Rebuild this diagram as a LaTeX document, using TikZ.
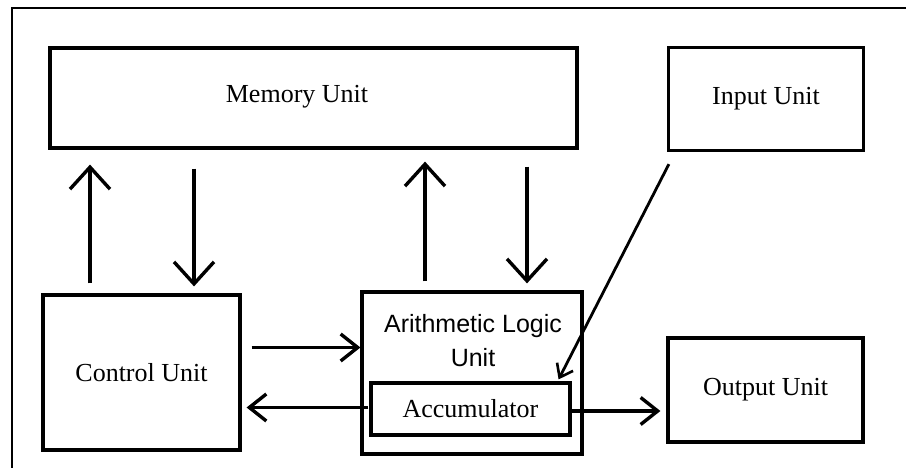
\documentclass[tikz,border=0pt]{standalone}
\usepackage{fontspec}
\setmainfont{Liberation Serif}
\newfontfamily\arialf{Liberation Sans}
\usetikzlibrary{arrows.meta}
\begin{document}
\begin{tikzpicture}[x=1pt,y=-1pt,
  box/.style={draw=black,line width=3.2pt,minimum width=#1,inner sep=0pt,font=\fontsize{26}{30}\selectfont},
  varr/.style={line width=3.4pt,-{Straight Barb[length=22pt,width=40pt,line width=3.4pt]}},
  harr/.style={line width=3.4pt,-{Straight Barb[length=17pt,width=27pt,line width=3.4pt]}},
  darr/.style={line width=2.8pt,-{Straight Barb[length=12pt,width=18pt,line width=2.6pt]}}]
\useasboundingbox (0,0) rectangle (906,468);
\fill[white] (0,0) rectangle (906,468);
% outer frame
\draw[line width=2.2pt] (12,468) -- (12,8) -- (906,8);
% boxes
\node[box=527pt,minimum height=100pt] (mem) at (313.5,98) {};
\node[font=\fontsize{26}{30}\selectfont] (memt) at (297,97) {Memory Unit};
\node[box=195pt,minimum height=103pt] (inp) at (766,99) {Input Unit};
\node[box=197pt,minimum height=155pt] (ctl) at (141.5,372.5) {Control Unit};
\node[box=220pt,minimum height=162pt] (alu) at (472,373) {};
\node[font=\arialf\fontsize{25}{34}\selectfont,align=center,anchor=north] (alut) at (473,311) {Arithmetic Logic\\Unit};
\node[box=199pt,minimum height=52pt] (acc) at (470.5,409) {Accumulator};
\node[box=195pt,minimum height=104pt] (out) at (765.5,390) {Output Unit};
% vertical arrows
\draw[varr,shorten <=10pt,shorten >=15pt] ([xshift=-51.5pt]ctl.north) -- ([xshift=-51.5pt]ctl.north |- mem.south);
\draw[varr,shorten <=19pt,shorten >=7pt] ([xshift=52.5pt]ctl.north |- mem.south) -- ([xshift=52.5pt]ctl.north);
\draw[varr,shorten <=9pt,shorten >=12pt] ([xshift=-47pt]alu.north) -- ([xshift=-47pt]alu.north |- mem.south);
\draw[varr,shorten <=17pt,shorten >=7pt] ([xshift=55pt]alu.north |- mem.south) -- ([xshift=55pt]alu.north);
% horizontal arrows
\draw[harr,shorten <=10pt] ([yshift=25pt]ctl.east) -- ([yshift=25pt]ctl.east -| alu.west);
\draw[harr,shorten <=-8pt,shorten >=5pt] ([yshift=-35pt]ctl.east -| alu.west) -- ([yshift=-35pt]ctl.east);
\draw[harr,shorten >=6pt] ([yshift=-2pt]acc.east) -- ([yshift=-2pt]acc.east -| out.west);
% input diagonal
\draw[darr] ([xshift=2pt,yshift=-12pt]inp.south west) -- ([xshift=-13pt,yshift=2pt]acc.north east);
\end{tikzpicture}
\end{document}
